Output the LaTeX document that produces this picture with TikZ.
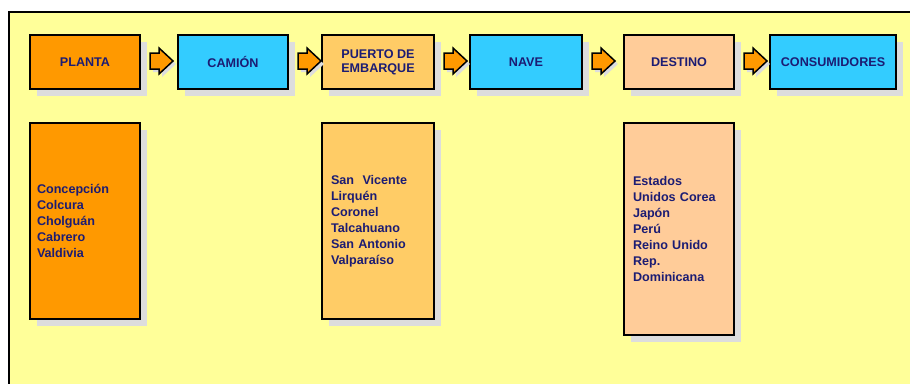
\documentclass[tikz,border=0pt]{standalone}
\usepackage{fontspec}
\setmainfont{Liberation Sans}
\usetikzlibrary{calc,shadows}
\definecolor{bgyellow}{HTML}{FFFF99}
\definecolor{shadowgray}{HTML}{DDDDDD}
\definecolor{navytext}{HTML}{1C1C73}
\definecolor{orangebox}{HTML}{FF9900}
\definecolor{cyanbox}{HTML}{33CCFF}
\definecolor{lightorange}{HTML}{FFCC66}
\definecolor{peachbox}{HTML}{FFCC99}
\begin{document}
\begin{tikzpicture}[x=1pt,y=-1pt,
  every node/.style={text=navytext, font=\bfseries\fontsize{12.6}{16}\selectfont},
  boxshadow/.style={drop shadow={shadow xshift=6.5pt,shadow yshift=-6.5pt,fill=shadowgray,opacity=1}},
  stagebox/.style={draw=black, line width=2pt, minimum height=54pt, inner sep=0pt, align=center, boxshadow,
    font=\bfseries\fontsize{12.6}{14}\selectfont},
  listbox/.style={draw=black, line width=2pt, inner ysep=0pt, align=left, boxshadow},
  barrow/.pic={
    \fill[shadowgray] (3,-5) -- (12,-5) -- (12,-10) -- (26,3) -- (12,16) -- (12,11) -- (3,11) -- cycle;
    \draw[fill=orangebox, line width=1.5pt, line join=miter] (0,-8) -- (9,-8) -- (9,-13) -- (23,0) -- (9,13) -- (9,8) -- (0,8) -- cycle;
  }]
\useasboundingbox (0,0) rectangle (910,383);
\fill[white] (0,0) rectangle (910,383);
\clip (0,0) rectangle (910,383);
\draw[fill=bgyellow, line width=2pt] (9,12) rectangle (940,400);

% top row of stages
\node[stagebox, fill=orangebox, minimum width=110pt] (planta) at (85,62) {PLANTA};
\node[stagebox, fill=cyanbox, minimum width=110pt] (camion) at (233,62) {CAMIÓN};
\node[stagebox, fill=lightorange, minimum width=112pt] (puerto) at (378,62) {PUERTO DE\\EMBARQUE};
\node[stagebox, fill=cyanbox, minimum width=112pt] (nave) at (526,62) {NAVE};
\node[stagebox, fill=peachbox, minimum width=110pt] (destino) at (679,62) {DESTINO};
\node[stagebox, fill=cyanbox, minimum width=126pt] (consum) at (833,62) {CONSUMIDORES};

% block arrows between stages
\foreach \a/\b in {planta/camion, camion/puerto, puerto/nave, nave/destino, destino/consum}{
  \pic at ($(\a.east)+(9,-1)$) {barrow};
}

% lists
\node[listbox, fill=orangebox, inner xsep=7pt, text width=96pt, minimum height=196pt] (plantalist) at (85,221)
  {Concepción\\Colcura\\Cholguán\\Cabrero\\Valdivia};
\node[listbox, fill=lightorange, inner xsep=9pt, text width=94pt, minimum height=196pt] (puertolist) at (378,221)
  {San~ Vicente\\Lirquén\\Coronel\\Talcahuano\\San Antonio\\Valparaíso};
\node[listbox, fill=peachbox, inner xsep=9pt, text width=92pt, minimum height=212pt] (destinolist) at (679,229)
  {Estados\\Unidos Corea\\Japón\\Perú\\Reino Unido\\Rep.\\Dominicana};
\end{tikzpicture}
\end{document}
